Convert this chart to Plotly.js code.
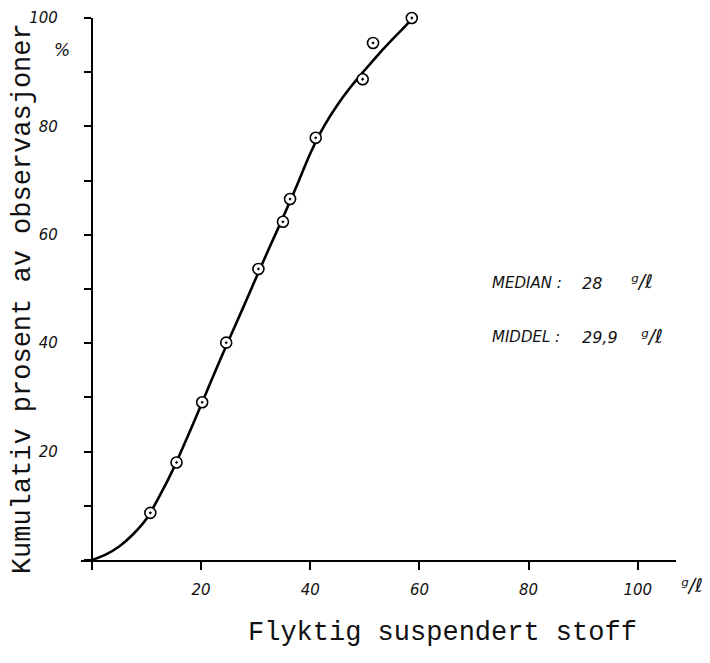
<!DOCTYPE html>
<html>
<head>
<meta charset="utf-8">
<script src="https://cdn.plot.ly/plotly-3.0.1.min.js"></script>
<style>html,body{margin:0;padding:0;background:#fff;}</style>
</head>
<body>
<div id="chart" style="width:710px;height:663px;"></div>
<script>
// Observations (volatile suspended solids, g/l) and cumulative percent
const obsX = [10.7, 15.5, 20.2, 24.6, 30.5, 35.0, 36.3, 41.0, 49.6, 51.5, 58.6];
const obsY = [8.7, 18.0, 29.1, 40.1, 53.7, 62.4, 66.6, 77.9, 88.7, 95.4, 100];

// Hand-drawn fitted curve
const curveX = [0, 2.5, 5, 7.5, 10, 12.5, 15, 17.5, 20, 22.5, 25, 27.5, 30, 32.5, 35, 37.5, 40, 42.5, 45, 47.5, 50, 52.5, 55, 57.5, 58.6];
const curveY = [0, 1.0, 2.5, 4.7, 7.6, 12.0, 17.0, 22.7, 28.6, 34.6, 40.4, 46.1, 51.9, 57.6, 63.2, 69.0, 75.0, 80.0, 84.0, 87.4, 90.4, 93.3, 96.0, 98.6, 99.8];

const xTickVals = [20, 40, 60, 80, 100];
const xTickText = ['20', '40', '60', '80', '100'];
const yTickVals = [20, 40, 60, 80, 100];
const yTickText = ['20', '40', '60', '80', '100'];

const statLabels = ['MEDIAN :', 'MIDDEL :'];
const statValues = ['28', '29,9'];
const statY = [51.1, 41.1];
const unitText = 'ᵍ/ℓ';

const xTitle = 'Flyktig suspendert stoff';
const yTitle = 'Kumulativ prosent av observasjoner';

const tickFont = {family: 'DejaVu Sans', style: 'italic', size: 15, color: '#111'};
const monoFont = {family: 'Liberation Mono', size: 27, color: '#111'};
const statFont = {family: 'DejaVu Sans', style: 'italic', size: 15, color: '#111'};
const unitFont = {family: 'DejaVu Sans', style: 'italic', size: 19, color: '#111'};

const traces = [
  {x: curveX, y: curveY, mode: 'lines', type: 'scatter',
   line: {color: '#000', width: 2.6, shape: 'spline', smoothing: 0.8},
   hoverinfo: 'skip', showlegend: false},
  {x: obsX, y: obsY, mode: 'markers', type: 'scatter', cliponaxis: false,
   marker: {symbol: 'circle-dot', size: 11, color: '#fff', line: {color: '#000', width: 1.6}},
   showlegend: false}
];

const annotations = [];
statLabels.forEach((lab, i) => {
  annotations.push({x: 72.9, y: statY[i], xref: 'x', yref: 'y', text: lab, showarrow: false,
    xanchor: 'left', yanchor: 'middle', font: statFont});
  annotations.push({x: 89.5, y: statY[i], xref: 'x', yref: 'y', text: statValues[i], showarrow: false,
    xanchor: 'left', yanchor: 'middle', font: {family: 'DejaVu Sans', style: 'italic', size: 16, color: '#111'}});
  annotations.push({x: 89.5 + (statValues[i].length > 2 ? 10.8 : 8.8), y: statY[i] + 0.3, xref: 'x', yref: 'y',
    text: unitText, showarrow: false,
    xanchor: 'left', yanchor: 'middle', font: unitFont});
});
annotations.push({x: -0.032, y: 0.941, xref: 'paper', yref: 'paper', text: '%', showarrow: false,
  xanchor: 'center', yanchor: 'middle', font: {family: 'DejaVu Sans', style: 'italic', size: 17, color: '#111'}});
annotations.push({x: 1.027, y: -0.046, xref: 'paper', yref: 'paper', text: unitText, showarrow: false,
  xanchor: 'center', yanchor: 'middle', font: unitFont});
annotations.push({x: -0.0975, y: 0.483, xref: 'paper', yref: 'paper', text: yTitle, showarrow: false,
  textangle: -90, xanchor: 'center', yanchor: 'middle', font: monoFont});
annotations.push({x: 0.608, y: -0.135, xref: 'paper', yref: 'paper', text: xTitle, showarrow: false,
  xanchor: 'center', yanchor: 'middle', font: monoFont});

const layout = {
  width: 710, height: 663,
  margin: {l: 81, r: 34, t: 18, b: 103},
  paper_bgcolor: '#fff', plot_bgcolor: '#fff',
  showlegend: false,
  xaxis: {
    range: [-2, 107], showgrid: false, zeroline: false,
    showline: true, linecolor: '#000', linewidth: 2,
    ticks: 'outside', ticklen: 8, tickwidth: 2, tickcolor: '#000',
    tickvals: xTickVals, ticktext: xTickText, tickfont: tickFont,
    minor: {tick0: 0, dtick: 20, ticks: 'outside', ticklen: 8, tickwidth: 2, tickcolor: '#000', showgrid: false},
    ticklabelstandoff: 7, anchor: 'y'
  },
  yaxis: {
    range: [0, 100], showgrid: false, zeroline: false,
    anchor: 'free', position: 2 / 109,
    showline: true, linecolor: '#000', linewidth: 2.5,
    ticks: 'outside', ticklen: 7, tickwidth: 2, tickcolor: '#000',
    tickvals: yTickVals, ticktext: yTickText, tickfont: tickFont,
    minor: {tick0: 0, dtick: 10, ticks: 'outside', ticklen: 7, tickwidth: 2, tickcolor: '#000', showgrid: false},
    ticklabelstandoff: 23
  },
  annotations: annotations
};

Plotly.newPlot('chart', traces, layout, {displayModeBar: false, staticPlot: true});
</script>
</body>
</html>
